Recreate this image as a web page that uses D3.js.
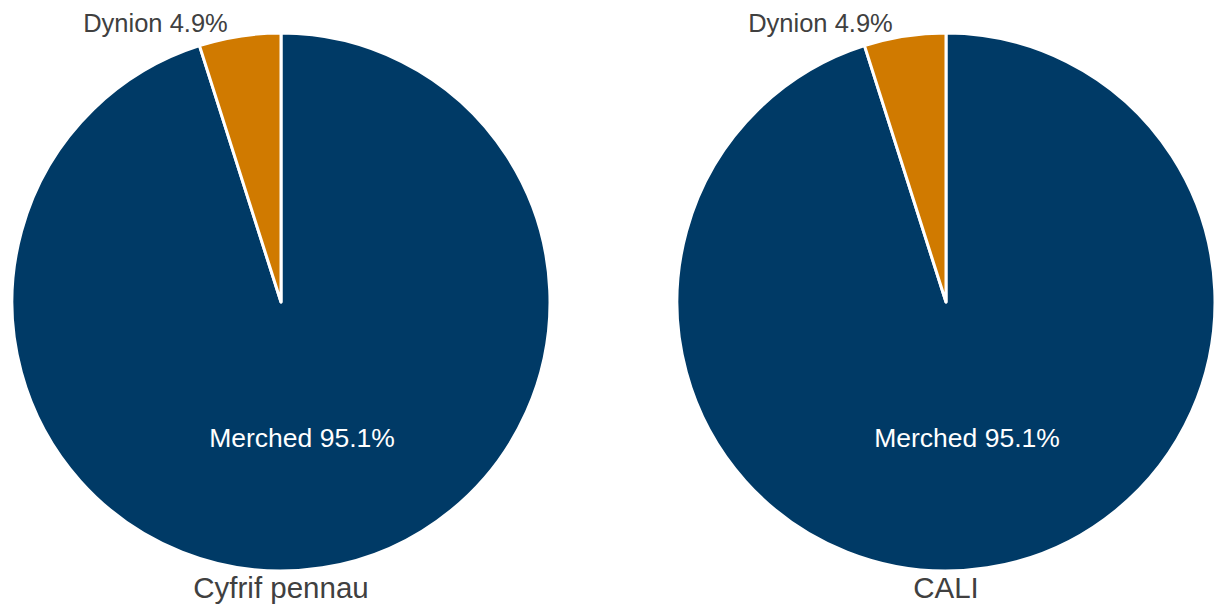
<!DOCTYPE html>
<html><head><meta charset="utf-8">
<script src="https://cdn.jsdelivr.net/npm/d3@7"></script>
<style>html,body{margin:0;padding:0;background:#fff;}svg{display:block;}</style>
</head><body>
<svg id="chart" width="1214" height="607"></svg>
<script>
const categories = ["Merched", "Dynion"];
const panels = ["Cyfrif pennau", "CALI"];
const valuesHeadcount = [95.1, 4.9];
const valuesFTE = [95.1, 4.9];
const seriesValues = [valuesHeadcount, valuesFTE];
const colours = ["#003A66", "#D07A00"];

const svg = d3.select("#chart");
const r = 269, cy = 302;
const x = d3.scalePoint().domain(panels).range([281, 946]);
const colour = d3.scaleOrdinal().domain(categories).range(colours);
const pie = d3.pie().sort(null).value(d => d.v);
const arc = d3.arc().innerRadius(0).outerRadius(r);
const fontFam = "'Liberation Sans', Arial, sans-serif";

panels.forEach((p, i) => {
  const data = categories.map((c, j) => ({c, v: seriesValues[i][j]}));
  const g = svg.append("g").attr("transform", `translate(${x(p)},${cy})`);
  const arcs = pie(data);
  g.selectAll("path").data(arcs).join("path")
    .attr("d", arc).attr("fill", d => colour(d.data.c))
    .attr("stroke", "#fff").attr("stroke-width", 3).attr("stroke-linejoin", "round");
  const big = arcs[0];
  const a0 = (big.startAngle + big.endAngle) / 2;
  const rl = r * 0.51;
  g.append("text")
    .attr("x", Math.sin(a0) * rl).attr("y", -Math.cos(a0) * rl)
    .attr("dy", "0.35em").attr("text-anchor", "middle")
    .attr("font-family", fontFam).attr("font-size", 26.5).attr("fill", "#fff")
    .text(`${big.data.c} ${big.data.v.toFixed(1)}%`);
  const sm = arcs[1];
  const a1 = (sm.startAngle + sm.endAngle) / 2;
  const ro = r + 13;
  g.append("text")
    .attr("x", Math.sin(a1) * ro - 10).attr("y", -Math.cos(a1) * ro)
    .attr("dy", "0.35em").attr("text-anchor", "end")
    .attr("font-family", fontFam).attr("font-size", 25.5).attr("fill", "#404040")
    .text(`${sm.data.c} ${sm.data.v.toFixed(1)}%`);
  svg.append("text")
    .attr("x", x(p)).attr("y", 598).attr("text-anchor", "middle")
    .attr("font-family", fontFam).attr("font-size", 29.5).attr("fill", "#404040")
    .text(p);
});
</script>
</body></html>
